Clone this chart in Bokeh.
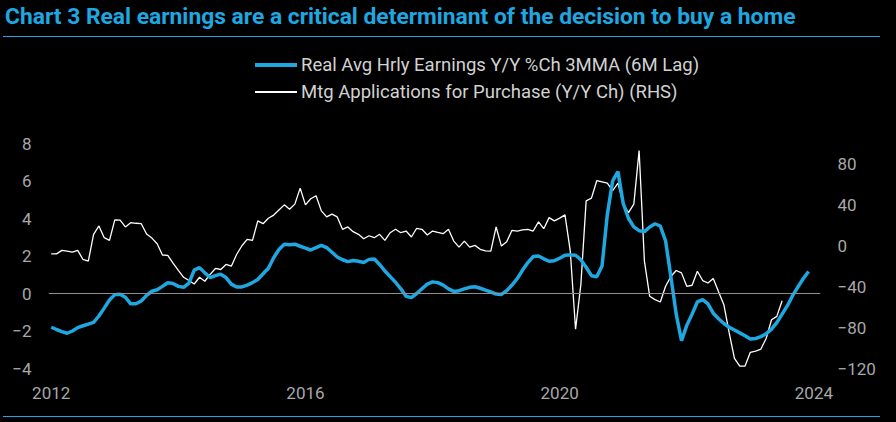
from bokeh.plotting import figure
from bokeh.layouts import column
from bokeh.models import Range1d, LinearAxis, FixedTicker, Span, ColumnDataSource, Div
from bokeh.embed import file_html
from bokeh.resources import INLINE

# ---------------- data (monthly, starting Jan 2012) ----------------
start_year = 2012
title_text = "Chart 3 Real earnings are a critical determinant of the decision to buy a home"
series_names = ["Real Avg Hrly Earnings Y/Y %Ch 3MMA (6M Lag)",
                "Mtg Applications for Purchase (Y/Y Ch) (RHS)"]

earnings = [
    -1.80, -1.92, -2.03, -2.12, -2.00, -1.82, -1.72, -1.63, -1.54, -1.20, -0.78, -0.35,
    -0.06, -0.04, -0.20, -0.55, -0.55, -0.40, -0.10, 0.12, 0.20, 0.38, 0.57, 0.53,
    0.38, 0.33, 0.55, 1.25, 1.38, 1.10, 0.85, 0.95, 1.03, 0.85, 0.50, 0.35,
    0.35, 0.45, 0.58, 0.75, 1.05, 1.35, 1.91, 2.35, 2.63, 2.60, 2.63, 2.52,
    2.42, 2.32, 2.45, 2.57, 2.45, 2.20, 1.95, 1.80, 1.70, 1.76, 1.72, 1.65,
    1.82, 1.84, 1.55, 1.20, 0.90, 0.60, 0.25, -0.15, -0.22, 0.00, 0.25, 0.50,
    0.62, 0.58, 0.45, 0.25, 0.11, 0.15, 0.25, 0.33, 0.36, 0.28, 0.18, 0.08,
    -0.03, -0.05, 0.15, 0.45, 0.80, 1.25, 1.65, 1.97, 2.00, 1.85, 1.72, 1.75,
    1.88, 2.04, 2.06, 2.04, 1.80, 1.40, 0.95, 0.89, 1.47, 4.22, 6.00, 6.50,
    4.80, 4.00, 3.55, 3.35, 3.30, 3.55, 3.72, 3.60, 2.80, 0.90, -1.10, -2.52,
    -1.70, -1.10, -0.45, -0.33, -0.55, -1.05, -1.35, -1.60, -1.80, -1.95, -2.10, -2.25,
    -2.43, -2.40, -2.30, -2.15, -1.90, -1.55, -1.10, -0.65, -0.10, 0.35, 0.80, 1.17,
]

mtg_purchase = [
    -7.9, -7.9, -4.5, -5.2, -6.2, -4.5, -13.4, -15.0, 11.2, 19.4, 7.9, 5.3,
    25.3, 25.0, 18.4, 22.6, 22.0, 21.6, 11.5, 7.5, 2.0, -9.0, -9.4, -17.0,
    -24.0, -30.8, -34.0, -37.4, -30.8, -34.7, -28.0, -22.2, -23.2, -18.3, -20.0, -8.5,
    0.0, 6.3, 5.3, 24.3, 21.6, 26.9, 30.0, 35.0, 40.0, 35.8, 40.7, 56.4,
    40.0, 46.0, 48.9, 34.1, 28.2, 30.9, 28.2, 16.1, 18.4, 13.8, 11.2, 6.9,
    9.8, 7.9, 11.2, 5.3, 12.8, 16.1, 12.8, 14.4, 8.6, 17.1, 16.1, 10.5,
    14.4, 13.0, 11.8, 16.1, 4.6, -1.3, 4.6, -1.3, 0.4, -3.5, -5.0, -5.2,
    18.4, -0.3, 3.9, 15.1, 14.4, 15.5, 16.1, 14.4, 23.3, 16.7, 27.5, 24.3,
    27.0, 30.2, -5.0, -81.6, -38.0, 43.9, 46.6, 63.6, 62.5, 61.3, 53.8, 61.3,
    40.7, 32.4, 40.7, 93.1, -15.0, -49.4, -52.7, -55.0, -39.6, -30.0, -24.2, -26.5,
    -39.6, -38.6, -24.9, -34.0, -36.4, -32.0, -45.0, -57.6, -85.0, -110.0, -117.6, -117.6,
    -104.2, -103.0, -101.0, -90.4, -72.3, -69.0, -53.7,
]

x_ticks = [2012, 2016, 2020, 2024]
left_ticks = [-4, -2, 0, 2, 4, 6, 8]
right_ticks = [-120, -80, -40, 0, 40, 80]

# ---------------- styling ----------------
BLUE = "#1ea8e2"
WHITE = "#ffffff"
BG = "#000000"
TICK_COL = "#a8a8a8"
LEG_COL = "#d2d2d2"
W = 880
HEAD_H, MAIN_H, FOOT_H = 135, 271, 7

# ---------------- header: title, rule, legend (HTML text) ----------------
leg_rows = ""
for name, col, lw, cy in zip(series_names, [BLUE, WHITE], [3.5, 1.3], [65, 92]):
    leg_rows += (
        f'<div style="position:absolute;left:255px;top:{cy - lw / 2}px;width:42px;'
        f'height:{lw}px;background:{col};"></div>'
        f'<div style="position:absolute;left:301px;top:{cy - 11}px;height:22px;line-height:22px;'
        f'font-family:Roboto;font-size:18.5px;color:{LEG_COL};white-space:nowrap;">{name}</div>'
    )
head_html = (
    f'<div style="position:relative;width:{W}px;height:{HEAD_H}px;background:{BG};overflow:hidden;">'
    f'<div style="position:absolute;left:5px;top:3px;height:28px;line-height:28px;'
    f'font-family:Roboto;font-weight:bold;font-size:22.8px;color:{BLUE};white-space:nowrap;">'
    f'{title_text}</div>'
    f'<div style="position:absolute;left:3px;top:35.5px;width:{W - 3}px;height:1.2px;background:{BLUE};"></div>'
    f'{leg_rows}</div>'
)
header = Div(text=head_html, width=W, height=HEAD_H, margin=0)

# ---------------- main chart ----------------
earn_src = ColumnDataSource(dict(x=[start_year + i / 12 for i in range(len(earnings))], y=earnings))
mtg_src = ColumnDataSource(dict(x=[start_year + i / 12 for i in range(len(mtg_purchase))], y=mtg_purchase))

p = figure(width=W, height=MAIN_H, output_backend="svg", toolbar_location=None,
           x_range=Range1d(2011.957, 2024.104), y_range=Range1d(-4, 8),
           min_border_left=48, min_border_right=60, min_border_top=8, min_border_bottom=38)
p.extra_y_ranges = {"rhs": Range1d(-120, 100)}
p.background_fill_color = None
p.border_fill_color = None
p.outline_line_color = None
p.xgrid.visible = False
p.ygrid.visible = False

p.xaxis.ticker = FixedTicker(ticks=x_ticks)
p.yaxis.ticker = FixedTicker(ticks=left_ticks)
raxis = LinearAxis(y_range_name="rhs", ticker=FixedTicker(ticks=right_ticks))
p.add_layout(raxis, "right")

for ax in [p.xaxis[0], p.yaxis[0], raxis]:
    ax.axis_line_color = None
    ax.major_tick_line_color = None
    ax.minor_tick_line_color = None
    ax.major_tick_out = 0
    ax.major_tick_in = 0
    ax.minor_tick_out = 0
    ax.major_label_text_color = TICK_COL
    ax.major_label_text_font = "Roboto"
    ax.major_label_text_font_size = "17px"
    ax.major_label_standoff = 17
p.xaxis.major_label_standoff = 18

p.add_layout(Span(location=0, dimension="width", line_color="#8f8f8f", line_width=1.2))

p.line("x", "y", source=mtg_src, y_range_name="rhs", line_color=WHITE, line_width=1.3)
p.line("x", "y", source=earn_src, line_color=BLUE, line_width=3.5)

# ---------------- footer rule ----------------
foot_html = (
    f'<div style="position:relative;width:{W}px;height:{FOOT_H}px;background:{BG};">'
    f'<div style="position:absolute;left:3px;top:5px;width:{W - 3}px;height:1.2px;background:{BLUE};"></div></div>'
)
footer = Div(text=foot_html, width=W, height=FOOT_H, margin=0)

layout = column(header, p, footer, spacing=0)
html = file_html(layout, INLINE)
html = html.replace("<html", '<html style="background:#000000"', 1)
html = html.replace("<body>", '<body style="background:#000000">', 1)
open("out.html", "w").write(html)
